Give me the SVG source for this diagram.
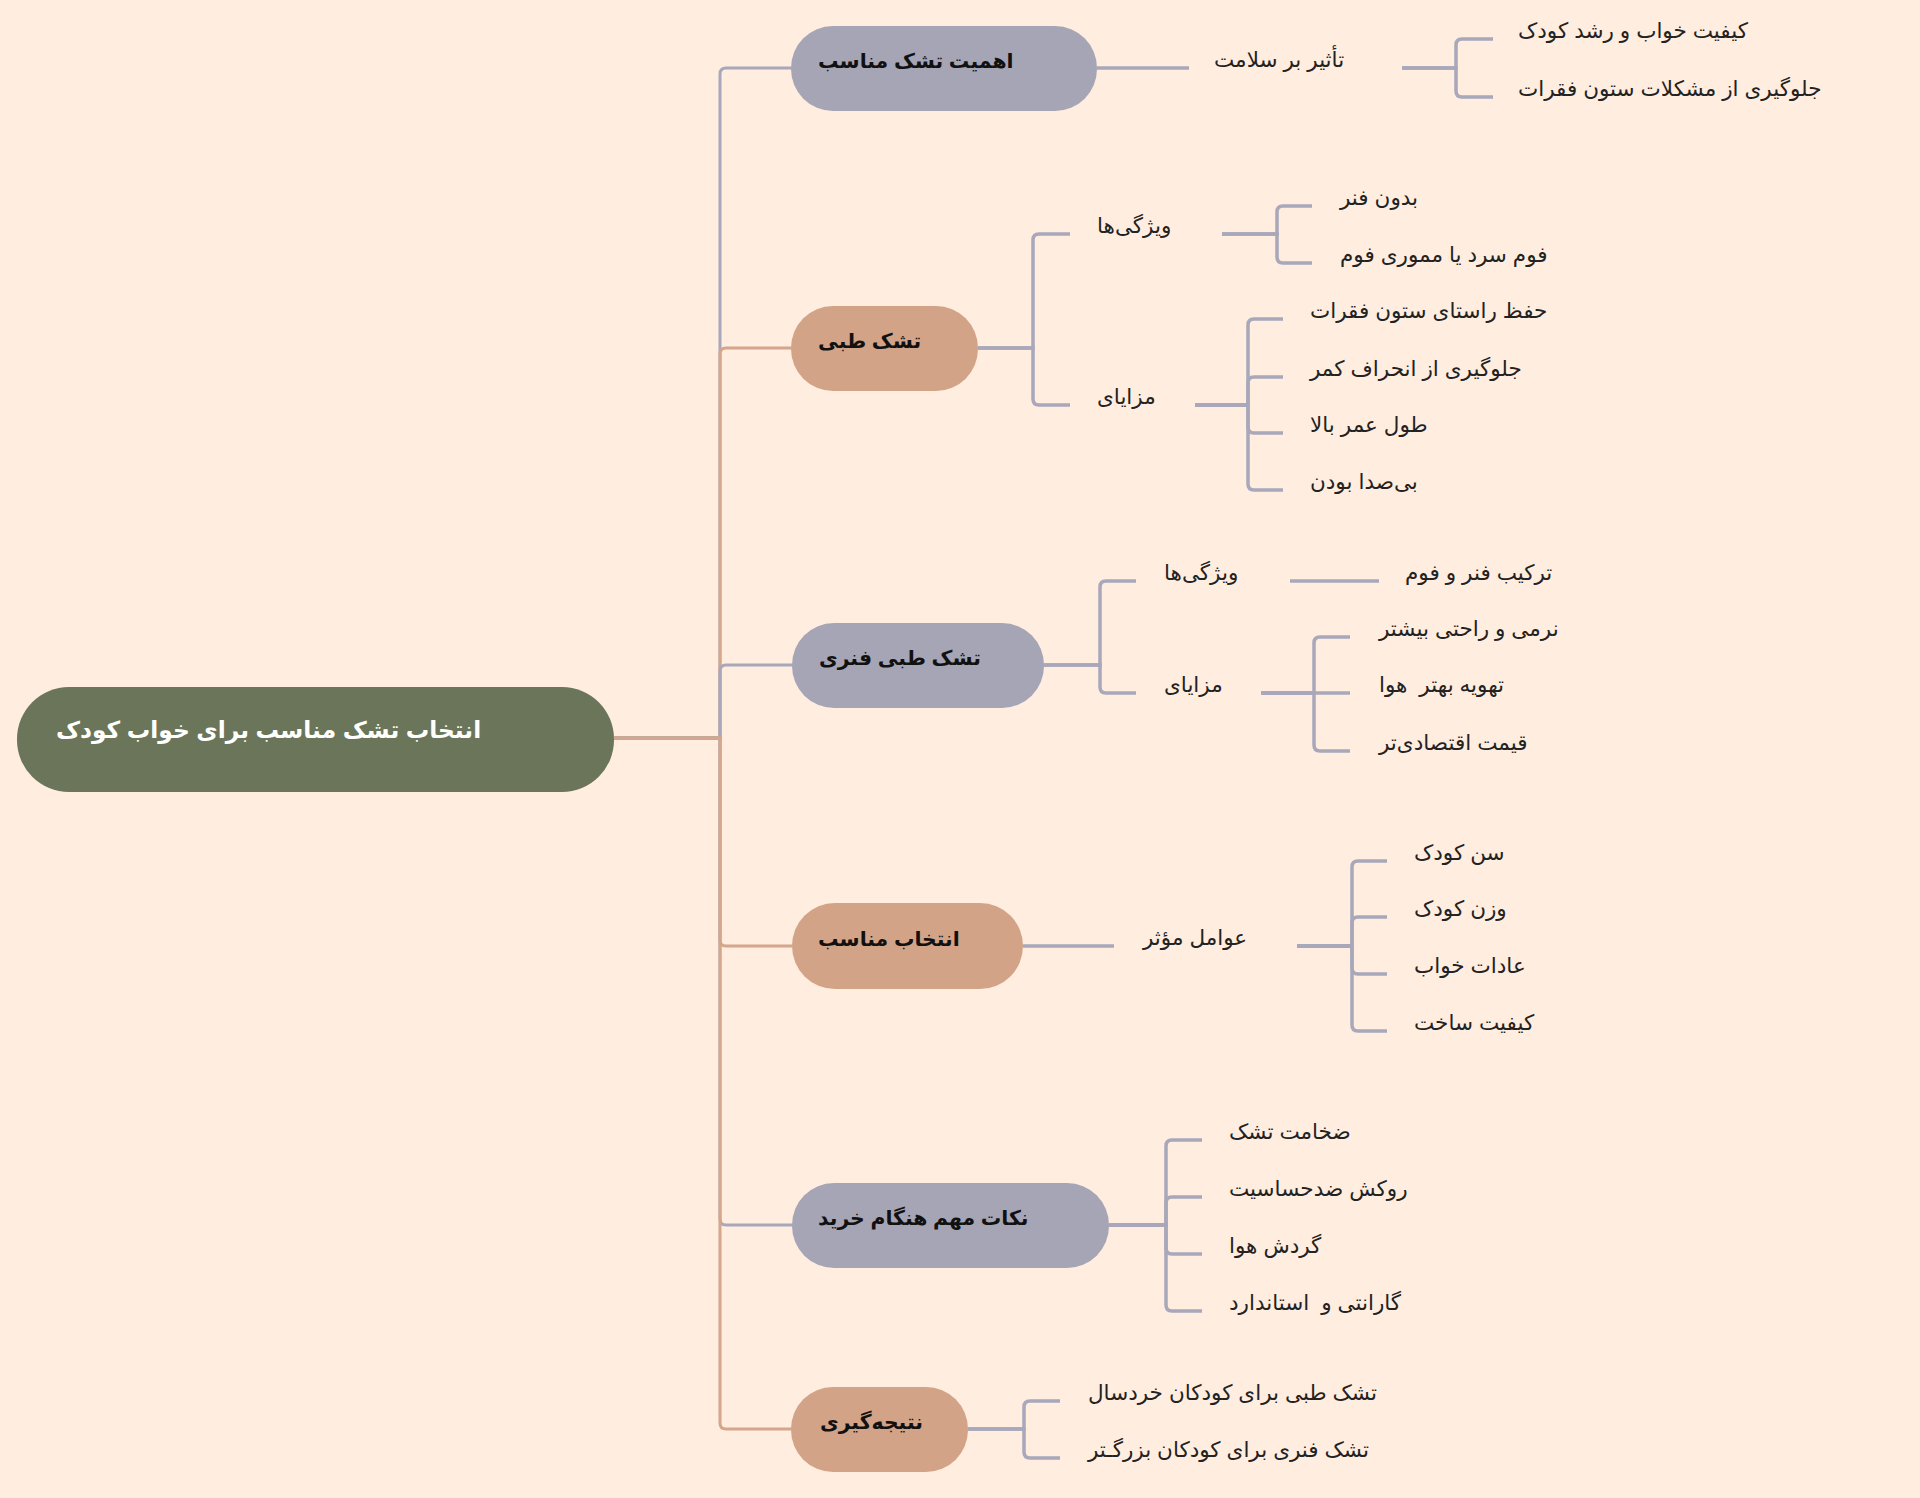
<svg xmlns="http://www.w3.org/2000/svg" width="1920" height="1498" viewBox="0 0 1920 1498">
<style>
.bg{fill:#FFEDE0}
.ng{fill:#A6A5B5}
.nt{fill:#D3A388}
.root{fill:#6B7559}
.lg{fill:none;stroke:#A8A8BA;stroke-width:3}
.lt{fill:none;stroke:#D4A68B;stroke-width:3}
.ls{fill:none;stroke:#A8A8BA;stroke-width:3.5}
text{font-family:"Liberation Sans","DejaVu Sans",sans-serif}
.t0{font-size:23.4px;font-weight:bold;fill:#ffffff}
.t1{font-size:20.4px;font-weight:bold;fill:#111111}
.t2{font-size:21.5px;fill:#222222}
.pre{white-space:pre}
</style>
<rect class="bg" x="0" y="0" width="1920" height="1498"/>
<g id="connectors">
<path class="lg" d="M614 738 H720 V74 Q720 68 726 68 H791"/>
<path class="lt" d="M614 738 H720 V354 Q720 348 726 348 H791"/>
<path class="lg" d="M614 738 H720 V671 Q720 665 726 665 H792"/>
<path class="lt" d="M614 738 H720 V940 Q720 946 726 946 H792"/>
<path class="lg" d="M614 738 H720 V1219 Q720 1225 726 1225 H792"/>
<path class="lt" d="M614 738 H720 V1423 Q720 1429 726 1429 H791"/>
<path class="ls" d="M1097 68 H1189"/>
<path class="ls" d="M1402 68 H1456 V45 Q1456 39 1462 39 H1493"/>
<path class="ls" d="M1402 68 H1456 V91 Q1456 97 1462 97 H1493"/>
<path class="ls" d="M978 348 H1033 V240 Q1033 234 1039 234 H1070"/>
<path class="ls" d="M978 348 H1033 V399 Q1033 405 1039 405 H1070"/>
<path class="ls" d="M1222 234 H1277 V212 Q1277 206 1283 206 H1312"/>
<path class="ls" d="M1222 234 H1277 V257 Q1277 263 1283 263 H1312"/>
<path class="ls" d="M1195 405 H1248 V325 Q1248 319 1254 319 H1283"/>
<path class="ls" d="M1195 405 H1248 V383 Q1248 377 1254 377 H1283"/>
<path class="ls" d="M1195 405 H1248 V427 Q1248 433 1254 433 H1283"/>
<path class="ls" d="M1195 405 H1248 V484 Q1248 490 1254 490 H1283"/>
<path class="ls" d="M1044 665 H1100 V587 Q1100 581 1106 581 H1136"/>
<path class="ls" d="M1044 665 H1100 V687 Q1100 693 1106 693 H1136"/>
<path class="ls" d="M1290 581 H1379"/>
<path class="ls" d="M1261 693 H1314 V643 Q1314 637 1320 637 H1350"/>
<path class="ls" d="M1261 693 H1350"/>
<path class="ls" d="M1261 693 H1314 V745 Q1314 751 1320 751 H1350"/>
<path class="ls" d="M1023 946 H1114"/>
<path class="ls" d="M1297 946 H1352 V867 Q1352 861 1358 861 H1387"/>
<path class="ls" d="M1297 946 H1352 V923 Q1352 917 1358 917 H1387"/>
<path class="ls" d="M1297 946 H1352 V968 Q1352 974 1358 974 H1387"/>
<path class="ls" d="M1297 946 H1352 V1025 Q1352 1031 1358 1031 H1387"/>
<path class="ls" d="M1109 1225 H1166 V1146 Q1166 1140 1172 1140 H1202"/>
<path class="ls" d="M1109 1225 H1166 V1203 Q1166 1197 1172 1197 H1202"/>
<path class="ls" d="M1109 1225 H1166 V1248 Q1166 1254 1172 1254 H1202"/>
<path class="ls" d="M1109 1225 H1166 V1305 Q1166 1311 1172 1311 H1202"/>
<path class="ls" d="M968 1429 H1024 V1407 Q1024 1401 1030 1401 H1060"/>
<path class="ls" d="M968 1429 H1024 V1452 Q1024 1458 1030 1458 H1060"/>
</g>
<g id="root">
<rect class="root" x="17" y="687" width="597" height="105" rx="52"/>
<text class="t0" x="56" y="738">انتخاب تشک مناسب برای خواب کودک</text>
</g>
<g id="n1">
<rect class="ng" x="791" y="26" width="306" height="85" rx="42"/>
<text class="t1" x="818" y="68">اهمیت تشک مناسب</text>
</g>
<g id="n1a"><text class="t2" x="1214" y="67">تأثیر بر سلامت</text></g>
<g id="n1a1"><text class="t2" x="1518" y="38">کیفیت خواب و رشد کودک</text></g>
<g id="n1a2"><text class="t2" x="1518" y="96">جلوگیری از مشکلات ستون فقرات</text></g>
<g id="n2">
<rect class="nt" x="791" y="306" width="187" height="85" rx="42"/>
<text class="t1" x="818" y="348">تشک طبی</text>
</g>
<g id="n2a"><text class="t2" x="1097" y="233">ویژگی‌ها</text></g>
<g id="n2a1"><text class="t2" x="1340" y="205">بدون فنر</text></g>
<g id="n2a2"><text class="t2" x="1340" y="262">فوم سرد یا مموری فوم</text></g>
<g id="n2b"><text class="t2" x="1097" y="404">مزایای</text></g>
<g id="n2b1"><text class="t2" x="1310" y="318">حفظ راستای ستون فقرات</text></g>
<g id="n2b2"><text class="t2" x="1310" y="376">جلوگیری از انحراف کمر</text></g>
<g id="n2b3"><text class="t2" x="1310" y="432">طول عمر بالا</text></g>
<g id="n2b4"><text class="t2" x="1310" y="489">بی‌صدا بودن</text></g>
<g id="n3">
<rect class="ng" x="792" y="623" width="252" height="85" rx="42"/>
<text class="t1" x="819" y="665">تشک طبی فنری</text>
</g>
<g id="n3a"><text class="t2" x="1164" y="580">ویژگی‌ها</text></g>
<g id="n3a1"><text class="t2" x="1405" y="580">ترکیب فنر و فوم</text></g>
<g id="n3b"><text class="t2" x="1164" y="692">مزایای</text></g>
<g id="n3b1"><text class="t2" x="1379" y="636">نرمی و راحتی بیشتر</text></g>
<g id="n3b2"><text class="t2 pre" x="1379" y="692">تهویه بهتر  هوا</text></g>
<g id="n3b3"><text class="t2" x="1379" y="750">قیمت اقتصادی‌تر</text></g>
<g id="n4">
<rect class="nt" x="792" y="903" width="231" height="86" rx="43"/>
<text class="t1" x="818" y="946">انتخاب مناسب</text>
</g>
<g id="n4a"><text class="t2" x="1143" y="945">عوامل مؤثر</text></g>
<g id="n4a1"><text class="t2" x="1414" y="860">سن کودک</text></g>
<g id="n4a2"><text class="t2" x="1414" y="916">وزن کودک</text></g>
<g id="n4a3"><text class="t2" x="1414" y="973">عادات خواب</text></g>
<g id="n4a4"><text class="t2" x="1414" y="1030">کیفیت ساخت</text></g>
<g id="n5">
<rect class="ng" x="792" y="1183" width="317" height="85" rx="42"/>
<text class="t1" x="818" y="1225">نکات مهم هنگام خرید</text>
</g>
<g id="n5a"><text class="t2" x="1229" y="1139">ضخامت تشک</text></g>
<g id="n5b"><text class="t2" x="1229" y="1196">روکش ضدحساسیت</text></g>
<g id="n5c"><text class="t2" x="1229" y="1253">گردش هوا</text></g>
<g id="n5d"><text class="t2 pre" x="1229" y="1310">گارانتی و  استاندارد</text></g>
<g id="n6">
<rect class="nt" x="791" y="1387" width="177" height="85" rx="42"/>
<text class="t1" x="820" y="1429">نتیجه‌گیری</text>
</g>
<g id="n6a"><text class="t2" x="1088" y="1400">تشک طبی برای کودکان خردسال</text></g>
<g id="n6b"><text class="t2" x="1088" y="1457">تشک فنری برای کودکان بزرگـتر</text></g>
</svg>
